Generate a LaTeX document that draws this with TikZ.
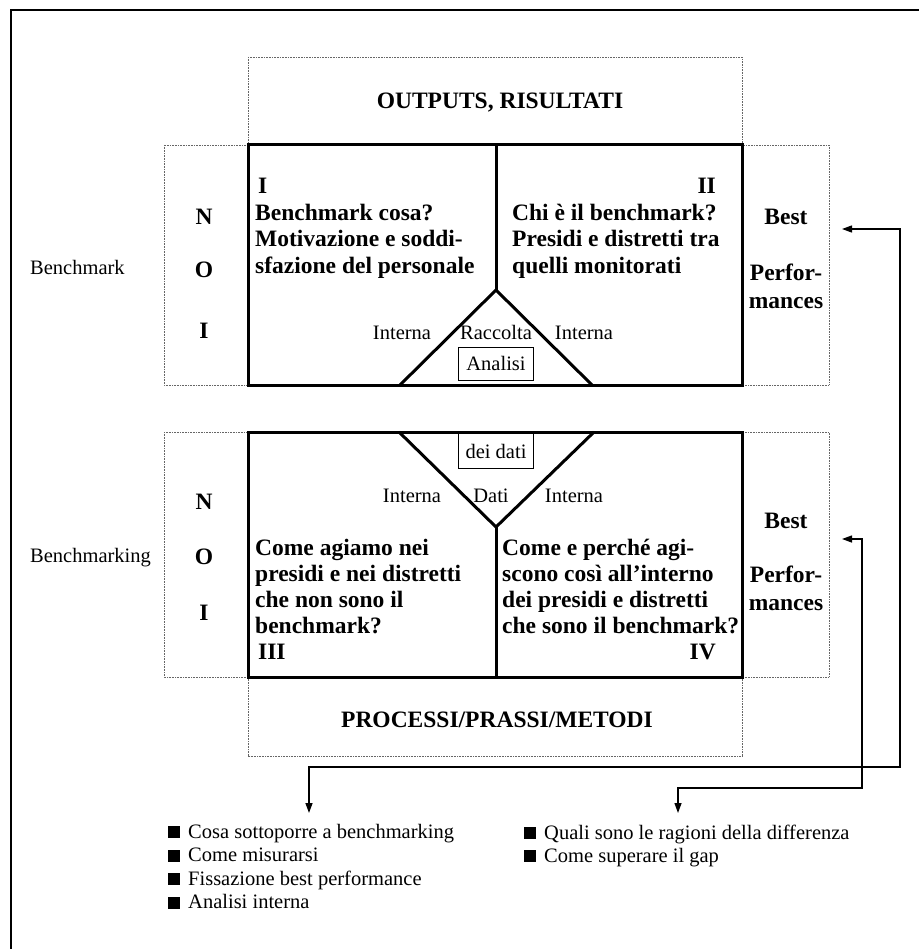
\documentclass[tikz,border=0pt]{standalone}
\usepackage{fontspec}
\setmainfont{Liberation Serif}
\usetikzlibrary{arrows.meta}
\newcommand{\sqbul}{\rule{12pt}{12pt}\hspace{8pt}}
\begin{document}
\begin{tikzpicture}[x=1pt,y=-1pt,
  dotbox/.style={draw=black!60, line width=0.7pt, dash pattern=on 0.9pt off 0.7pt},
  heavy/.style={line width=3pt, line join=miter},
  smallbox/.style={draw, line width=0.8pt, inner sep=0pt, minimum width=75pt},
  qtext/.style={font=\bfseries\fontsize{23.5}{26}\selectfont, inner sep=0pt},
  lbl/.style={font=\fontsize{20.5}{24}\selectfont, inner sep=0pt},
  conn/.style={line width=1.3pt, {Triangle[length=10pt,width=7pt]}-{Triangle[length=10pt,width=7pt]}},
]
\useasboundingbox (0,0) rectangle (919,949);
\fill[white] (0,0) rectangle (919,949);

% outer frame (top and left edges)
\draw[line width=1.4pt] (11,949) -- (11,10) -- (919,10);

% dotted panels
\draw[dotbox] (248,57) rectangle (742,145);
\draw[dotbox] (164,145) rectangle (829,385);
\draw[dotbox] (164,432) rectangle (829,677);
\draw[dotbox] (248,677) rectangle (742,756);

% small boxes at the centre
\node[smallbox, lbl, minimum height=33pt] (analisi) at (496,363.5) {Analisi};
\node[smallbox, lbl, minimum height=35pt] (deidati) at (496,451) {dei dati};

% heavy quadrant frames
\draw[heavy] (248,145) rectangle (742,385);
\draw[heavy] (248,432) rectangle (742,677);

% upper triangle and divider
\coordinate (uA) at (496,290);
\coordinate (uL) at (400,385);
\coordinate (uR) at (592,385);
\coordinate (uT) at (496,145);
\draw[heavy] (uL) -- (uA) -- (uR);
\draw[heavy] (uT) -- (uA);

% lower funnel and divider
\coordinate (lA) at (496,527);
\coordinate (lL) at (399,432);
\coordinate (lR) at (594,432);
\coordinate (lB) at (496,677);
\draw[heavy] (lL) -- (lA) -- (lR);
\draw[heavy] (lA) -- (lB);

% headings
\node[qtext, anchor=base] (outputs) at (500,109) {OUTPUTS, RISULTATI};
\node[qtext, anchor=base] (processi) at (497,727) {PROCESSI/PRASSI/METODI};

% side labels
\node[lbl, anchor=base west] (labA) at (30,275) {Benchmark};
\node[lbl, anchor=base west] (labB) at (30,562) {Benchmarking};

% N O I columns
\node[qtext] (n1) at (204,217) {N};
\node[qtext] (o1) at (204,270) {O};
\node[qtext] (i1) at (204,331) {I};
\node[qtext] (n2) at (204,502) {N};
\node[qtext] (o2) at (204,557) {O};
\node[qtext] (i2) at (204,613) {I};

% best performances columns
\node[qtext, anchor=base] (best1) at (786,225) {Best};
\node[qtext, anchor=base] (perf1) at (786,280) {Perfor-};
\node[qtext, anchor=base] (manc1) at (786,308) {mances};
\node[qtext, anchor=base] (best2) at (786,528) {Best};
\node[qtext, anchor=base] (perf2) at (786,582) {Perfor-};
\node[qtext, anchor=base] (manc2) at (786,610) {mances};

% quadrant I
\node[qtext, anchor=base west] (q1n) at (258,194) {I};
\node[qtext, anchor=base west] (q1a) at (255,220.5) {Benchmark cosa?};
\node[qtext, anchor=base west] (q1b) at (255,247) {Motivazione e soddi-};
\node[qtext, anchor=base west] (q1c) at (255,273.5) {sfazione del personale};

% quadrant II
\node[qtext, anchor=base east] (q2n) at (716,194) {II};
\node[qtext, anchor=base west] (q2a) at (512,220.5) {Chi è il benchmark?};
\node[qtext, anchor=base west] (q2b) at (512,247) {Presidi e distretti tra};
\node[qtext, anchor=base west] (q2c) at (512,273.5) {quelli monitorati};

% quadrant III
\node[qtext, anchor=base west] (q3a) at (255,555) {Come agiamo nei};
\node[qtext, anchor=base west] (q3b) at (255,581) {presidi e nei distretti};
\node[qtext, anchor=base west] (q3c) at (255,607) {che non sono il};
\node[qtext, anchor=base west] (q3d) at (255,633) {benchmark?};
\node[qtext, anchor=base west] (q3n) at (258,659) {III};

% quadrant IV
\node[qtext, anchor=base west] (q4a) at (502,555) {Come e perché agi-};
\node[qtext, anchor=base west] (q4b) at (502,581) {scono così all’interno};
\node[qtext, anchor=base west] (q4c) at (502,607) {dei presidi e distretti};
\node[qtext, anchor=base west] (q4d) at (502,633) {che sono il benchmark?};
\node[qtext, anchor=base east] (q4n) at (716,659) {IV};

% labels along the triangle
\node[lbl, anchor=base] (intU1) at (402,339) {Interna};
\node[lbl, anchor=base] (racc) at (496,339) {Raccolta};
\node[lbl, anchor=base] (intU2) at (584,339) {Interna};
\node[lbl, anchor=base] (intL1) at (412,502) {Interna};
\node[lbl, anchor=base] (dati) at (491,502) {Dati};
\node[lbl, anchor=base] (intL2) at (574,502) {Interna};

% feedback connectors
\coordinate (tipU) at (842,229);
\coordinate (bendU) at (900,767);
\coordinate (tipL) at (309,813);
\draw[conn] (tipU) -| (bendU) -| (tipL);
\coordinate (tipD) at (842,539);
\coordinate (bendD) at (862,788);
\coordinate (tipR) at (678,813);
\draw[conn] (tipD) -| (bendD) -| (tipR);

% bullet lists
\node[lbl, anchor=base west] (b1) at (168,838) {\sqbul Cosa sottoporre a benchmarking};
\node[lbl, anchor=base west] (b2) at (168,861.5) {\sqbul Come misurarsi};
\node[lbl, anchor=base west] (b3) at (168,885) {\sqbul Fissazione best performance};
\node[lbl, anchor=base west] (b4) at (168,908.5) {\sqbul Analisi interna};
\node[lbl, anchor=base west] (c1) at (524,839) {\sqbul Quali sono le ragioni della differenza};
\node[lbl, anchor=base west] (c2) at (524,862) {\sqbul Come superare il gap};
\end{tikzpicture}
\end{document}
